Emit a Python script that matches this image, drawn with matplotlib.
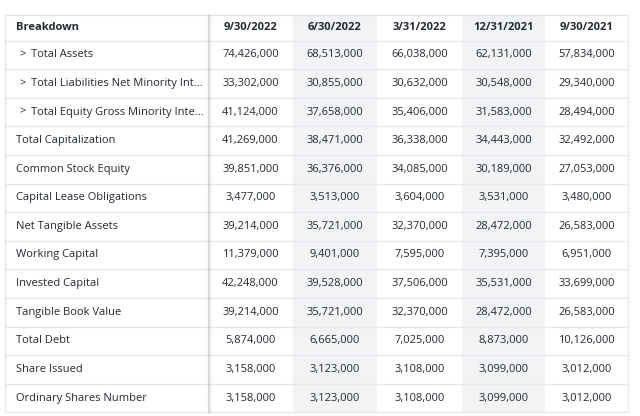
import matplotlib.pyplot as plt

# table contents
columns = ['9/30/2022', '6/30/2022', '3/31/2022', '12/31/2021', '9/30/2021']
rows = ['Total Assets', 'Total Liabilities Net Minority Int...',
        'Total Equity Gross Minority Inte...', 'Total Capitalization',
        'Common Stock Equity', 'Capital Lease Obligations', 'Net Tangible Assets',
        'Working Capital', 'Invested Capital', 'Tangible Book Value',
        'Total Debt', 'Share Issued', 'Ordinary Shares Number']
expandable = [True, True, True] + [False] * 10
values = [
    ['74,426,000', '68,513,000', '66,038,000', '62,131,000', '57,834,000'],
    ['33,302,000', '30,855,000', '30,632,000', '30,548,000', '29,340,000'],
    ['41,124,000', '37,658,000', '35,406,000', '31,583,000', '28,494,000'],
    ['41,269,000', '38,471,000', '36,338,000', '34,443,000', '32,492,000'],
    ['39,851,000', '36,376,000', '34,085,000', '30,189,000', '27,053,000'],
    ['3,477,000', '3,513,000', '3,604,000', '3,531,000', '3,480,000'],
    ['39,214,000', '35,721,000', '32,370,000', '28,472,000', '26,583,000'],
    ['11,379,000', '9,401,000', '7,595,000', '7,395,000', '6,951,000'],
    ['42,248,000', '39,528,000', '37,506,000', '35,531,000', '33,699,000'],
    ['39,214,000', '35,721,000', '32,370,000', '28,472,000', '26,583,000'],
    ['5,874,000', '6,665,000', '7,025,000', '8,873,000', '10,126,000'],
    ['3,158,000', '3,123,000', '3,108,000', '3,099,000', '3,012,000'],
    ['3,158,000', '3,123,000', '3,108,000', '3,099,000', '3,012,000'],
]

plt.rcParams['font.family'] = ['Open Sans', 'DejaVu Sans']
txt = '#232a31'
line = '#e6e8eb'
grey = '#f2f3f5'

fig = plt.figure(figsize=(6.4, 4.16), dpi=100)
ax = fig.add_axes([0, 0, 1, 1])
ax.set_xlim(0, 640)
ax.set_ylim(416, 0)
ax.axis('off')

edges = [5, 208, 293, 377, 462, 545, 628]
top, head_h, row_h = 15, 25.5, 28.6
bottom = top + head_h + row_h * len(rows)

# shaded columns
for j in (1, 3):
    ax.fill_between([edges[j + 1], edges[j + 2]], top, bottom, color=grey, lw=0)

# horizontal rules
ax.plot([edges[0], edges[-1]], [top, top], color=line, lw=1)
for i in range(len(rows) + 1):
    y = top + head_h + row_h * i
    ax.plot([edges[0], edges[-1]], [y, y], color=line, lw=1)
ax.plot([edges[0], edges[0]], [top, bottom], color=line, lw=1)
ax.plot([edges[-1], edges[-1]], [top, bottom], color=line, lw=1)

# sticky column shadow
for k, a in enumerate([0.14, 0.08, 0.045, 0.02]):
    ax.plot([edges[1] + k, edges[1] + k], [top, bottom], color='black', alpha=a, lw=1)

# header
yh = top + head_h / 2
ax.text(16, yh, 'Breakdown', ha='left', va='center', fontsize=8, fontweight='bold', color=txt)
for j, c in enumerate(columns):
    xc = (edges[j + 1] + edges[j + 2]) / 2
    ax.text(xc, yh, c, ha='center', va='center', fontsize=8, fontweight='bold', color=txt)

# body
for i, r in enumerate(rows):
    y = top + head_h + row_h * (i + 0.5)
    if expandable[i]:
        ax.text(19, y, '>', ha='left', va='center', fontsize=8, color=txt)
        ax.text(31, y, r, ha='left', va='center', fontsize=8, color=txt)
    else:
        ax.text(16, y, r, ha='left', va='center', fontsize=8, color=txt)
    for j, v in enumerate(values[i]):
        xc = (edges[j + 1] + edges[j + 2]) / 2
        ax.text(xc, y, v, ha='center', va='center', fontsize=8, color=txt)

plt.savefig('out.png', dpi=100)
